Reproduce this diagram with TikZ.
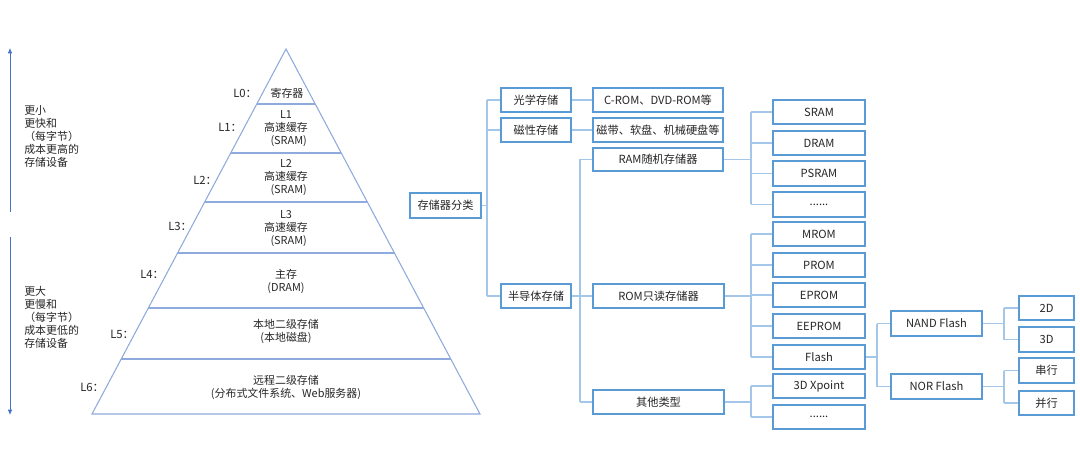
\documentclass[tikz,border=0pt]{standalone}
\usepackage{fontspec}
\setmainfont{Noto Sans CJK SC}
\usetikzlibrary{arrows.meta}
\definecolor{boxblue}{HTML}{5B9BD5}
\definecolor{connblue}{HTML}{A4C6E8}
\definecolor{pyrblue}{HTML}{8FAADC}
\definecolor{arrblue}{HTML}{4472C4}
\definecolor{txt}{HTML}{262626}
\tikzset{
  box/.style={draw=boxblue,line width=1.3pt,fill=white,inner sep=0pt,text=txt,font=\fontsize{8.4}{10}\selectfont},
  conn/.style={draw=connblue,line width=1.1pt},
  pyr/.style={draw=pyrblue,line width=0.8pt},
  arr/.style={draw=arrblue,line width=0.6pt,-{Latex[length=4pt,width=3.5pt]}},
  ptext/.style={align=center,text=txt,inner sep=0pt,font=\fontsize{8.2}{9.75}\selectfont},
  ltext/.style={align=left,text=txt,inner sep=0pt,anchor=west,font=\fontsize{8.2}{9.75}\selectfont},
  lab/.style={anchor=west,text=txt,inner sep=0pt,font=\fontsize{8.5}{10}\selectfont}
}
\newcommand\bx[6]{\node[box,minimum width={(#4-#2)*0.75pt},minimum height={(#5-#3)*0.75pt}] (#1) at ({(#2+#4)/2},{(#3+#5)/2}) {#6};}
\begin{document}
\begin{tikzpicture}[x=0.75pt,y=-0.75pt]
\useasboundingbox (0,0) rectangle (1080,470);
% ---------------- pyramid
\coordinate (A) at (286,49);
\coordinate (BL) at (92,414);
\coordinate (BR) at (480,414);
\draw[pyr] (A) -- (BL) -- (BR) -- cycle;
\foreach \yy in {104,153,202,253,308,359}{
  \draw[pyr] (intersection of A--BL and 0,\yy--1,\yy) -- (intersection of A--BR and 0,\yy--1,\yy);
}
\node[ptext] (p0) at (287,93) {寄存器};
\node[ptext] (p1) at (286,129) {L1\\高速缓存\\\hspace*{4pt}(SRAM)};
\node[ptext] (p2) at (286,178) {L2\\高速缓存\\\hspace*{4pt}(SRAM)};
\node[ptext] (p3) at (286,229) {L3\\高速缓存\\\hspace*{4pt}(SRAM)};
\node[ptext] (p4) at (286,281.5) {主存\\(DRAM)};
\node[ptext] (p5) at (286,331.5) {本地二级存储\\(本地磁盘)};
\node[ptext] (p6) at (286,387.5) {远程二级存储\\(分布式文件系统、Web服务器)};
\node[lab] (l0) at (233,93) {L0：};
\node[lab] (l1) at (218,127) {L1：};
\node[lab] (l2) at (193,180) {L2：};
\node[lab] (l3) at (168,226) {L3：};
\node[lab] (l4) at (140,274) {L4：};
\node[lab] (l5) at (110,334) {L5：};
\node[lab] (l6) at (80,387) {L6：};
% ---------------- left arrows and text
\coordinate (u1) at (10,212);
\coordinate (u2) at (10,48);
\coordinate (d1) at (10,237);
\coordinate (d2) at (10,415);
\draw[arr] (u1) -- (u2);
\draw[arr] (d1) -- (d2);
\node[ltext] (tu) at (24,136.5) {更小\\更快和\\（每字节）\\成本更高的\\存储设备};
\node[ltext] (td) at (24,317) {更大\\更慢和\\（每字节）\\成本更低的\\存储设备};
% ---------------- tree boxes
\bx{root}{410}{193}{481}{218}{存储器分类}
\bx{opt}{501}{88}{571}{112}{光学存储}
\bx{mag}{501}{118}{571}{142}{磁性存储}
\bx{semi}{501}{284}{571}{308}{半导体存储}
\bx{cdrom}{593}{88}{723}{112}{C-ROM、DVD-ROM等}
\bx{tape}{593}{118}{723}{142}{磁带、软盘、机械硬盘等}
\bx{ram}{593}{148}{723}{171}{RAM随机存储器}
\bx{rom}{593}{284}{724}{308}{ROM只读存储器}
\bx{oth}{593}{390}{724}{414}{其他类型}
\bx{sram}{773}{100}{865}{124}{SRAM}
\bx{dram}{773}{131}{865}{155}{DRAM}
\bx{psram}{773}{161}{865}{186}{PSRAM}
\bx{rdots}{773}{192}{865}{217}{......}
\bx{mrom}{773}{222}{865}{246}{MROM}
\bx{prom}{773}{253}{865}{277}{PROM}
\bx{eprom}{773}{283}{865}{307}{EPROM}
\bx{eeprom}{773}{314}{865}{338}{EEPROM}
\bx{flash}{773}{345}{865}{369}{Flash}
\bx{xp}{773}{374}{865}{398}{3D Xpoint}
\bx{odots}{773}{405}{865}{429}{......}
\bx{nand}{891}{311}{982}{336}{NAND Flash}
\bx{nor}{891}{374}{982}{399}{NOR Flash}
\bx{d2}{1019}{296}{1074}{320}{2D}
\bx{d3}{1019}{327}{1074}{352}{3D}
\bx{ser}{1019}{358}{1074}{383}{串行}
\bx{par}{1019}{391}{1074}{415}{并行}
% ---------------- tree connectors
\coordinate (j1) at (487,0);
\coordinate (j2) at (580,0);
\coordinate (j3) at (751,0);
\coordinate (j4) at (877,0);
\coordinate (j5) at (1004,0);
\draw[conn] (root.east) -- (root.east -| j1);
\draw[conn] (j1 |- opt.west) -- (j1 |- semi.west);
\foreach \n in {opt,mag,semi}{\draw[conn] (\n.west) -- (\n.west -| j1);}
\draw[conn] (opt.east) -- (cdrom.west);
\draw[conn] (mag.east) -- (tape.west);
\draw[conn] (semi.east) -- (semi.east -| j2);
\draw[conn] (j2 |- ram.west) -- (j2 |- oth.west);
\foreach \n in {ram,rom,oth}{\draw[conn] (\n.west) -- (\n.west -| j2);}
\draw[conn] (ram.east) -- (ram.east -| j3);
\draw[conn] (j3 |- sram.west) -- (j3 |- rdots.west);
\foreach \n in {sram,dram,psram,rdots}{\draw[conn] (\n.west) -- (\n.west -| j3);}
\draw[conn] (rom.east) -- (rom.east -| j3);
\draw[conn] (j3 |- mrom.west) -- (j3 |- flash.west);
\foreach \n in {mrom,prom,eprom,eeprom,flash}{\draw[conn] (\n.west) -- (\n.west -| j3);}
\draw[conn] (oth.east) -- (oth.east -| j3);
\draw[conn] (j3 |- xp.west) -- (j3 |- odots.west);
\foreach \n in {xp,odots}{\draw[conn] (\n.west) -- (\n.west -| j3);}
\draw[conn] (flash.east) -- (flash.east -| j4);
\draw[conn] (j4 |- nand.west) -- (j4 |- nor.west);
\foreach \n in {nand,nor}{\draw[conn] (\n.west) -- (\n.west -| j4);}
\draw[conn] (nand.east) -- (nand.east -| j5);
\draw[conn] (j5 |- d2.west) -- (j5 |- d3.west);
\foreach \n in {d2,d3}{\draw[conn] (\n.west) -- (\n.west -| j5);}
\draw[conn] (nor.east) -- (nor.east -| j5);
\draw[conn] (j5 |- ser.west) -- (j5 |- par.west);
\foreach \n in {ser,par}{\draw[conn] (\n.west) -- (\n.west -| j5);}
\end{tikzpicture}
\end{document}
